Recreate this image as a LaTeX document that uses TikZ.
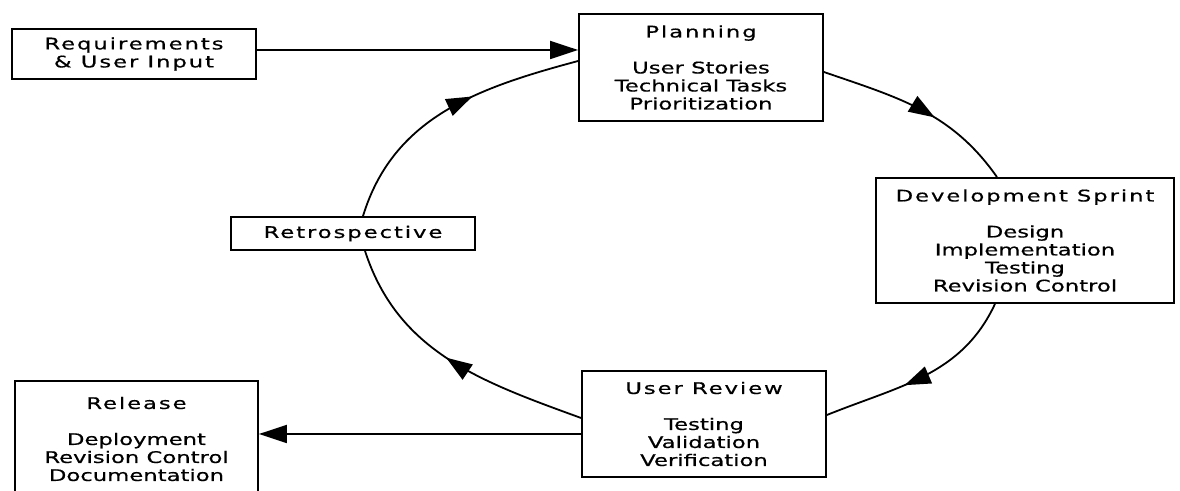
\documentclass[tikz,border=0pt]{standalone}
\usepackage{fontspec}
\setmainfont{DejaVu Sans}[FakeStretch=1.42,FakeBold=0.6]
\newfontfamily\wide{DejaVu Sans}[FakeStretch=1.42,FakeBold=0.6,LetterSpace=12]
\usetikzlibrary{arrows.meta,decorations.markings}

\def\gap{\\[9pt]}

\begin{document}
\begin{tikzpicture}[x=0.5pt,y=0.5pt,
  every text node part/.style={align=center},
  box/.style={draw,line width=0.9pt,inner sep=0pt,font=\fontsize{8}{9}\selectfont},
  flow/.style={line width=0.9pt},
  tip/.style={-{Triangle[length=14pt,width=9pt]}},
  midarrow/.style={postaction={decorate},decoration={markings,
    mark=at position #1 with {\arrow{Triangle[length=13pt,width=9pt]}}}}]
  \useasboundingbox (0,0) rectangle (1180,-491);

  \node[box,minimum width=122pt,minimum height=25pt] (req) at (134,-54) {\wide Requirements\\\wide \& User Input};
  \node[box,minimum width=122pt,minimum height=53.5pt] (plan) at (701,-67.5) {{\wide Planning}\gap User Stories\\Technical Tasks\\Prioritization};
  \node[box,minimum width=149pt,minimum height=62.5pt] (dev) at (1025,-240.5) {{\wide Development Sprint}\gap Design\\Implementation\\Testing\\Revision Control};
  \node[box,minimum width=122pt,minimum height=53pt] (review) at (704,-424) {{\wide User Review}\gap Testing\\Validation\\Verification};
  \node[box,minimum width=122pt,minimum height=16.5pt] (retro) at (353,-233.5) {\wide Retrospective};
  \node[box,minimum width=121.5pt,minimum height=58pt] (release) at (136.5,-439) {{\wide Release}\gap Deployment\\Revision Control\\Documentation};

  \draw[flow,tip] ([yshift=2pt]req.east) -- ([yshift=2pt]req.east -| plan.west);
  \draw[flow,tip] ([yshift=-5pt]review.west) -- ([yshift=-5pt]review.west -| release.east);

  \draw[flow,midarrow=0.58] ([yshift=-2.25pt]plan.east) to[out=-19,in=125] ([xshift=-14pt]dev.north);
  \draw[flow,midarrow=0.6] ([xshift=-15pt]dev.south) to[out=-115,in=22] ([yshift=4.5pt]review.east);
  \draw[flow,midarrow=0.52] ([yshift=3pt]review.west) to[out=160,in=-72] ([xshift=6pt]retro.south);
  \draw[flow,midarrow=0.6] ([xshift=5pt]retro.north) to[out=73,in=-165] ([yshift=3.25pt]plan.west);
\end{tikzpicture}
\end{document}
